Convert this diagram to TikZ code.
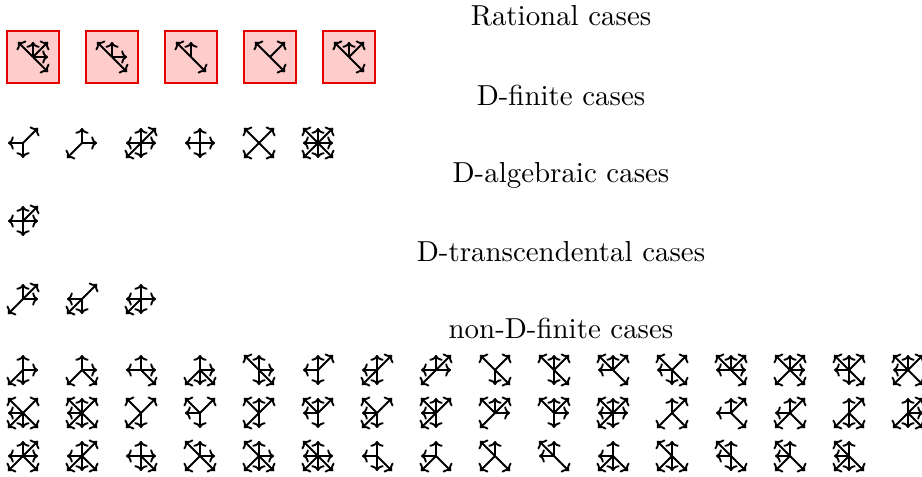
\documentclass[tikz,border=0pt]{standalone}
\usepackage{tikz}
\usetikzlibrary{arrows.meta}
\tikzset{stepline/.style={-{To[length=2pt,width=4.6pt]},line width=0.65pt},
    ratbox/.style={draw=red!90!black,fill=red!20,line width=0.6pt,
        minimum size=18pt,inner sep=0pt},
    heading/.style={anchor=base}}
\newcommand{\drawsteps}[2]{\edef\steplist{#2}%
    \foreach \stepdir in \steplist {\draw[stepline] (#1) -- ++(\stepdir);}}

\begin{document}
\begin{tikzpicture}[x=0.346pt,y=-0.346pt]
    \useasboundingbox (0,0) rectangle (922,477);
    % unit steps
    \coordinate (N) at (0,-15);
    \coordinate (NE) at (15,-15);
    \coordinate (E) at (15,0);
    \coordinate (SE) at (15,15);
    \coordinate (S) at (0,15);
    \coordinate (SW) at (-15,15);
    \coordinate (W) at (-15,0);
    \coordinate (NW) at (-15,-15);

    \node[heading] (rational) at (561,26) {Rational cases};
    \node[heading] (dfinite) at (561,106) {D-finite cases};
    \node[heading] (dalg) at (561,183) {D-algebraic cases};
    \node[heading] (dtrans) at (561,261) {D-transcendental cases};
    \node[heading] (nondfinite) at (561,338) {non-D-finite cases};

    \foreach \s [count=\i from 0] in {{NW,N,NE,E,SE},{NW,N,E,SE},{NW,N,SE},
        {NW,NE,SE},{NW,N,NE,SE}} {
        \node[ratbox] (r\i) at (33+79*\i,57) {};
        \drawsteps{r\i.center}{\s}
    }

    \foreach \s [count=\i from 0] in {{W,S,NE},{N,E,SW},{N,NE,E,S,SW,W},
        {N,E,S,W},{NE,SE,SW,NW},{N,NE,E,SE,S,SW,W,NW}}
        {\drawsteps{23+59*\i,143}{\s}}

    \drawsteps{23,221}{N,NE,E,S,W}

    \foreach \s [count=\i from 0] in {{N,NE,E,SW},{NE,W,SW,S},{N,E,S,W,SW}}
        {\drawsteps{23+59*\i,299}{\s}}

    % non-D-finite, three rows
    \foreach \s [count=\i from 0] in {{N,E,S,SW},{N,E,SW,SE},{N,E,W,SE},
        {N,E,SW,S,SE},{NW,N,E,S,SE},{N,NE,W,S},{N,NE,W,SW,S},{N,NE,W,E,SW},
        {NW,NE,S,SE},{NW,N,NE,S,SE},{NW,N,NE,W,SE},{NW,NE,W,S,SE},
        {NW,N,NE,W,E,SE},{NW,N,NE,E,SW,SE},{NW,N,NE,W,S,SE},{NW,N,NE,W,SW,SE}}
        {\drawsteps{23+59*\i,370}{\s}}
    \foreach \s [count=\i from 0] in {{NW,NE,W,SW,S,SE},{NW,N,NE,W,SW,S,SE},
        {NW,NE,SW,S},{NW,NE,W,S},{NW,N,NE,SW,S},{NW,N,NE,W,S},{NW,NE,W,SW,S},
        {NW,N,NE,W,SW,S},{NW,N,NE,E,SW},{NW,N,NE,E,S},{NW,N,NE,W,E,SW,S},
        {N,NE,SW,SE},{N,NE,W,SE},{N,NE,W,SW,SE},{N,NE,SW,S,SE},{N,NE,E,SW,S,SE}}
        {\drawsteps{23+59*\i,413}{\s}}
    \foreach \s [count=\i from 0] in {{N,NE,W,E,SW,SE},{N,NE,W,SW,S,SE},
        {N,E,S,W,SE},{NW,N,E,SW,SE},{NW,N,E,SW,S,SE},{NW,N,W,E,SW,S,SE},
        {N,W,S,SE},{N,W,SW,SE},{NW,N,SW,SE},{NW,N,W,SE},{N,W,SW,S,SE},
        {NW,N,SW,S,SE},{NW,N,W,S,SE},{NW,N,W,SW,SE},{NW,N,W,SW,S,SE}}
        {\drawsteps{23+59*\i,456}{\s}}
\end{tikzpicture}
\end{document}
